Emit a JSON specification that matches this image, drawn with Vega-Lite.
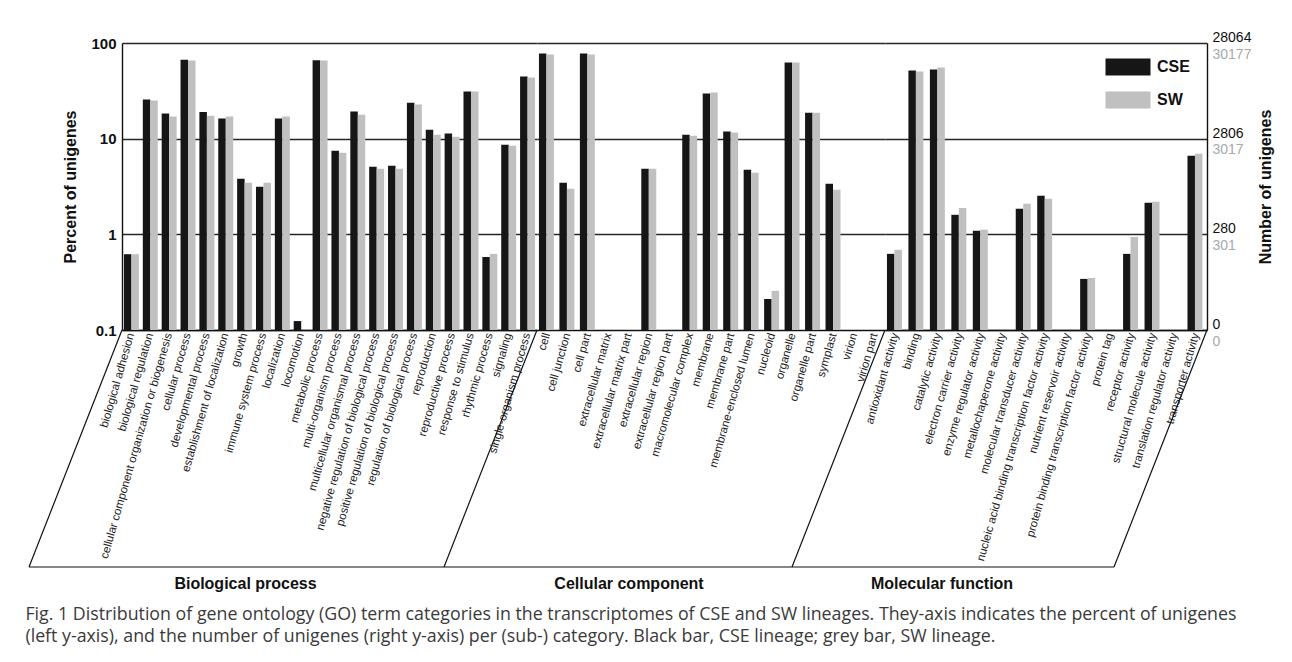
{
  "$schema": "https://vega.github.io/schema/vega-lite/v6.json",
  "background": "white",
  "padding": {"left": 25, "top": 30, "right": 18, "bottom": 6},
  "bounds": "flush",
  "spacing": 0,
  "title": {
    "text": ["Fig. 1 Distribution of gene ontology (GO) term categories in the transcriptomes of CSE and SW lineages. They-axis indicates the percent of unigenes", "(left y-axis), and the number of unigenes (right y-axis) per (sub-) category. Black bar, CSE lineage; grey bar, SW lineage."],
    "orient": "bottom", "anchor": "start", "frame": "bounds",
    "font": "Open Sans", "fontSize": 17.8, "fontWeight": "normal", "color": "#3a3a3a",
    "lineHeight": 22, "offset": 14, "dx": -3
  },
  "datasets": {
    "go": [
      {"group": "Biological process", "category": "biological adhesion", "lineage": "CSE", "percent": 0.62},
      {"group": "Biological process", "category": "biological adhesion", "lineage": "SW", "percent": 0.62},
      {"group": "Biological process", "category": "biological regulation", "lineage": "CSE", "percent": 25.6},
      {"group": "Biological process", "category": "biological regulation", "lineage": "SW", "percent": 25.0},
      {"group": "Biological process", "category": "cellular component organization or biogenesis", "lineage": "CSE", "percent": 18.3},
      {"group": "Biological process", "category": "cellular component organization or biogenesis", "lineage": "SW", "percent": 17.0},
      {"group": "Biological process", "category": "cellular process", "lineage": "CSE", "percent": 66.7},
      {"group": "Biological process", "category": "cellular process", "lineage": "SW", "percent": 65.6},
      {"group": "Biological process", "category": "developmental process", "lineage": "CSE", "percent": 19.0},
      {"group": "Biological process", "category": "developmental process", "lineage": "SW", "percent": 17.4},
      {"group": "Biological process", "category": "establishment of localization", "lineage": "CSE", "percent": 16.2},
      {"group": "Biological process", "category": "establishment of localization", "lineage": "SW", "percent": 17.0},
      {"group": "Biological process", "category": "growth", "lineage": "CSE", "percent": 3.81},
      {"group": "Biological process", "category": "growth", "lineage": "SW", "percent": 3.46},
      {"group": "Biological process", "category": "immune system process", "lineage": "CSE", "percent": 3.14},
      {"group": "Biological process", "category": "immune system process", "lineage": "SW", "percent": 3.46},
      {"group": "Biological process", "category": "localization", "lineage": "CSE", "percent": 16.2},
      {"group": "Biological process", "category": "localization", "lineage": "SW", "percent": 17.0},
      {"group": "Biological process", "category": "locomotion", "lineage": "CSE", "percent": 0.124},
      {"group": "Biological process", "category": "metabolic process", "lineage": "CSE", "percent": 66.0},
      {"group": "Biological process", "category": "metabolic process", "lineage": "SW", "percent": 65.6},
      {"group": "Biological process", "category": "multi-organism process", "lineage": "CSE", "percent": 7.48},
      {"group": "Biological process", "category": "multi-organism process", "lineage": "SW", "percent": 7.13},
      {"group": "Biological process", "category": "multicellular organismal process", "lineage": "CSE", "percent": 19.2},
      {"group": "Biological process", "category": "multicellular organismal process", "lineage": "SW", "percent": 17.8},
      {"group": "Biological process", "category": "negative regulation of biological process", "lineage": "CSE", "percent": 5.09},
      {"group": "Biological process", "category": "negative regulation of biological process", "lineage": "SW", "percent": 4.85},
      {"group": "Biological process", "category": "positive regulation of biological process", "lineage": "CSE", "percent": 5.21},
      {"group": "Biological process", "category": "positive regulation of biological process", "lineage": "SW", "percent": 4.85},
      {"group": "Biological process", "category": "regulation of biological process", "lineage": "CSE", "percent": 23.8},
      {"group": "Biological process", "category": "regulation of biological process", "lineage": "SW", "percent": 22.7},
      {"group": "Biological process", "category": "reproduction", "lineage": "CSE", "percent": 12.4},
      {"group": "Biological process", "category": "reproduction", "lineage": "SW", "percent": 11.0},
      {"group": "Biological process", "category": "reproductive process", "lineage": "CSE", "percent": 11.3},
      {"group": "Biological process", "category": "reproductive process", "lineage": "SW", "percent": 10.5},
      {"group": "Biological process", "category": "response to stimulus", "lineage": "CSE", "percent": 31.1},
      {"group": "Biological process", "category": "response to stimulus", "lineage": "SW", "percent": 31.1},
      {"group": "Biological process", "category": "rhythmic process", "lineage": "CSE", "percent": 0.58},
      {"group": "Biological process", "category": "rhythmic process", "lineage": "SW", "percent": 0.625},
      {"group": "Biological process", "category": "signaling", "lineage": "CSE", "percent": 8.65},
      {"group": "Biological process", "category": "signaling", "lineage": "SW", "percent": 8.45},
      {"group": "Biological process", "category": "single-organism process", "lineage": "CSE", "percent": 44.6},
      {"group": "Biological process", "category": "single-organism process", "lineage": "SW", "percent": 43.5},
      {"group": "Cellular component", "category": "cell", "lineage": "CSE", "percent": 77.6},
      {"group": "Cellular component", "category": "cell", "lineage": "SW", "percent": 75.8},
      {"group": "Cellular component", "category": "cell junction", "lineage": "CSE", "percent": 3.46},
      {"group": "Cellular component", "category": "cell junction", "lineage": "SW", "percent": 2.99},
      {"group": "Cellular component", "category": "cell part", "lineage": "CSE", "percent": 77.6},
      {"group": "Cellular component", "category": "cell part", "lineage": "SW", "percent": 75.8},
      {"group": "Cellular component", "category": "extracellular region", "lineage": "CSE", "percent": 4.85},
      {"group": "Cellular component", "category": "extracellular region", "lineage": "SW", "percent": 4.85},
      {"group": "Cellular component", "category": "macromolecular complex", "lineage": "CSE", "percent": 11.0},
      {"group": "Cellular component", "category": "macromolecular complex", "lineage": "SW", "percent": 10.75},
      {"group": "Cellular component", "category": "membrane", "lineage": "CSE", "percent": 29.6},
      {"group": "Cellular component", "category": "membrane", "lineage": "SW", "percent": 30.3},
      {"group": "Cellular component", "category": "membrane part", "lineage": "CSE", "percent": 11.85},
      {"group": "Cellular component", "category": "membrane part", "lineage": "SW", "percent": 11.6},
      {"group": "Cellular component", "category": "membrane-enclosed lumen", "lineage": "CSE", "percent": 4.73},
      {"group": "Cellular component", "category": "membrane-enclosed lumen", "lineage": "SW", "percent": 4.40},
      {"group": "Cellular component", "category": "nucleoid", "lineage": "CSE", "percent": 0.211},
      {"group": "Cellular component", "category": "nucleoid", "lineage": "SW", "percent": 0.256},
      {"group": "Cellular component", "category": "organelle", "lineage": "CSE", "percent": 62.5},
      {"group": "Cellular component", "category": "organelle", "lineage": "SW", "percent": 62.5},
      {"group": "Cellular component", "category": "organelle part", "lineage": "CSE", "percent": 18.7},
      {"group": "Cellular component", "category": "organelle part", "lineage": "SW", "percent": 18.7},
      {"group": "Cellular component", "category": "symplast", "lineage": "CSE", "percent": 3.38},
      {"group": "Cellular component", "category": "symplast", "lineage": "SW", "percent": 2.92},
      {"group": "Molecular function", "category": "antioxidant activity", "lineage": "CSE", "percent": 0.625},
      {"group": "Molecular function", "category": "antioxidant activity", "lineage": "SW", "percent": 0.689},
      {"group": "Molecular function", "category": "binding", "lineage": "CSE", "percent": 51.5},
      {"group": "Molecular function", "category": "binding", "lineage": "SW", "percent": 50.3},
      {"group": "Molecular function", "category": "catalytic activity", "lineage": "CSE", "percent": 52.8},
      {"group": "Molecular function", "category": "catalytic activity", "lineage": "SW", "percent": 55.4},
      {"group": "Molecular function", "category": "electron carrier activity", "lineage": "CSE", "percent": 1.60},
      {"group": "Molecular function", "category": "electron carrier activity", "lineage": "SW", "percent": 1.89},
      {"group": "Molecular function", "category": "enzyme regulator activity", "lineage": "CSE", "percent": 1.09},
      {"group": "Molecular function", "category": "enzyme regulator activity", "lineage": "SW", "percent": 1.12},
      {"group": "Molecular function", "category": "molecular transducer activity", "lineage": "CSE", "percent": 1.85},
      {"group": "Molecular function", "category": "molecular transducer activity", "lineage": "SW", "percent": 2.09},
      {"group": "Molecular function", "category": "nucleic acid binding transcription factor activity", "lineage": "CSE", "percent": 2.53},
      {"group": "Molecular function", "category": "nucleic acid binding transcription factor activity", "lineage": "SW", "percent": 2.35},
      {"group": "Molecular function", "category": "protein binding transcription factor activity", "lineage": "CSE", "percent": 0.342},
      {"group": "Molecular function", "category": "protein binding transcription factor activity", "lineage": "SW", "percent": 0.35},
      {"group": "Molecular function", "category": "receptor activity", "lineage": "CSE", "percent": 0.625},
      {"group": "Molecular function", "category": "receptor activity", "lineage": "SW", "percent": 0.94},
      {"group": "Molecular function", "category": "structural molecule activity", "lineage": "CSE", "percent": 2.14},
      {"group": "Molecular function", "category": "structural molecule activity", "lineage": "SW", "percent": 2.19},
      {"group": "Molecular function", "category": "transporter activity", "lineage": "CSE", "percent": 6.64},
      {"group": "Molecular function", "category": "transporter activity", "lineage": "SW", "percent": 6.96}
    ]
  },
  "hconcat": [
    {
      "width": 415, "height": 287,
      "title": {"text": "Biological process", "orient": "bottom", "anchor": "middle", "dx": -84, "offset": 8},
      "layer": [
        {
          "data": {"name": "go"},
          "transform": [{"filter": "datum.group == 'Biological process'"}],
          "mark": {"type": "bar"},
          "encoding": {
            "x": {"field": "category", "type": "nominal", "title": null,
              "scale": {"domain": ["biological adhesion", "biological regulation", "cellular component organization or biogenesis", "cellular process", "developmental process", "establishment of localization", "growth", "immune system process", "localization", "locomotion", "metabolic process", "multi-organism process", "multicellular organismal process", "negative regulation of biological process", "positive regulation of biological process", "regulation of biological process", "reproduction", "reproductive process", "response to stimulus", "rhythmic process", "signaling", "single-organism process"], "paddingInner": 0, "paddingOuter": 0}},
            "xOffset": {"field": "lineage", "type": "nominal", "scale": {"domain": ["CSE", "SW"], "paddingOuter": 0.26, "paddingInner": 0}},
            "y": {"field": "percent", "type": "quantitative", "stack": null,
              "scale": {"type": "log", "domain": [0.1, 100], "nice": false},
              "axis": {"values": [0.1, 1, 10, 100], "labelExpr": "datum.value < 0.5 ? '0.1' : format(datum.value, 'd')",
                "labelFontSize": 15, "labelFontWeight": "bold", "labelColor": "#111", "labelPadding": 6,
                "domain": true, "grid": true, "title": "Percent of unigenes", "titleFontSize": 16, "titleFontWeight": "bold",
                "titleColor": "#111", "titlePadding": 12, "labelFlush": false, "labelOverlap": false}},
            "color": {"field": "lineage", "type": "nominal",
              "scale": {"domain": ["CSE", "SW"], "range": ["#161616", "#c0c0c0"]},
              "legend": {"orient": "none", "legendX": 997, "legendY": 15, "title": null, "padding": 0,
                "symbolType": "M-2.5,-0.95H2.5V0.95H-2.5Z", "symbolSize": 324, "symbolStrokeWidth": 0, "symbolOpacity": 1,
                "labelFontSize": 16, "labelFontWeight": "bold", "labelColor": "#111", "labelOffset": 20, "rowPadding": 15}}
          }
        },
        {
          "data": {"values": [{}]},
          "mark": {"type": "rule", "x2Offset": -93, "y2Offset": 237, "color": "#111", "strokeWidth": 1.2},
          "encoding": {
            "x": {"datum": "biological adhesion", "type": "nominal", "bandPosition": 0},
            "x2": {"datum": "biological adhesion", "bandPosition": 0},
            "y": {"datum": 0.1, "type": "quantitative"},
            "y2": {"datum": 0.1}
          }
        },
        {
          "data": {"values": [{}]},
          "mark": {"type": "rule", "xOffset": -93, "x2Offset": -93, "yOffset": 237, "color": "#111", "strokeWidth": 1.2},
          "encoding": {
            "x": {"datum": "biological adhesion", "type": "nominal", "bandPosition": 0},
            "x2": {"datum": "single-organism process", "bandPosition": 1},
            "y": {"datum": 0.1, "type": "quantitative"}
          }
        }
      ]
    },
    {
      "width": 348, "height": 287,
      "title": {"text": "Cellular component", "orient": "bottom", "anchor": "middle", "dx": -82, "offset": 8},
      "layer": [
        {
          "data": {"name": "go"},
          "transform": [{"filter": "datum.group == 'Cellular component'"}],
          "mark": {"type": "bar"},
          "encoding": {
            "x": {"field": "category", "type": "nominal", "title": null,
              "scale": {"domain": ["cell", "cell junction", "cell part", "extracellular matrix", "extracellular matrix part", "extracellular region", "extracellular region part", "macromolecular complex", "membrane", "membrane part", "membrane-enclosed lumen", "nucleoid", "organelle", "organelle part", "symplast", "virion", "virion part"], "paddingInner": 0, "paddingOuter": 0}},
            "xOffset": {"field": "lineage", "type": "nominal", "scale": {"domain": ["CSE", "SW"], "paddingOuter": 0.36, "paddingInner": 0}},
            "y": {"field": "percent", "type": "quantitative", "stack": null,
              "scale": {"type": "log", "domain": [0.1, 100], "nice": false},
              "axis": {"values": [1, 10, 100], "labels": false, "domain": false, "grid": true, "title": null}},
            "color": {"field": "lineage", "type": "nominal",
              "scale": {"domain": ["CSE", "SW"], "range": ["#161616", "#c0c0c0"]}}
          }
        },
        {
          "data": {"values": [{}]},
          "mark": {"type": "rule", "x2Offset": -93, "y2Offset": 237, "color": "#111", "strokeWidth": 1.2},
          "encoding": {
            "x": {"datum": "cell", "type": "nominal", "bandPosition": 0},
            "x2": {"datum": "cell", "bandPosition": 0},
            "y": {"datum": 0.1, "type": "quantitative"},
            "y2": {"datum": 0.1}
          }
        },
        {
          "data": {"values": [{}]},
          "mark": {"type": "rule", "xOffset": -93, "x2Offset": -93, "yOffset": 237, "color": "#111", "strokeWidth": 1.2},
          "encoding": {
            "x": {"datum": "cell", "type": "nominal", "bandPosition": 0},
            "x2": {"datum": "virion part", "bandPosition": 1},
            "y": {"datum": 0.1, "type": "quantitative"}
          }
        }
      ]
    },
    {
      "width": 322, "height": 287,
      "title": {"text": "Molecular function", "orient": "bottom", "anchor": "middle", "dx": -104, "offset": 8},
      "resolve": {"axis": {"y": "independent"}},
      "layer": [
        {
          "data": {"name": "go"},
          "transform": [{"filter": "datum.group == 'Molecular function'"}],
          "mark": {"type": "bar"},
          "encoding": {
            "x": {"field": "category", "type": "nominal", "title": null,
              "scale": {"domain": ["antioxidant activity", "binding", "catalytic activity", "electron carrier activity", "enzyme regulator activity", "metallochaperone activity", "molecular transducer activity", "nucleic acid binding transcription factor activity", "nutrient reservoir activity", "protein binding transcription factor activity", "protein tag", "receptor activity", "structural molecule activity", "translation regulator activity", "transporter activity"], "paddingInner": 0, "paddingOuter": 0}},
            "xOffset": {"field": "lineage", "type": "nominal", "scale": {"domain": ["CSE", "SW"], "paddingOuter": 0.5, "paddingInner": 0}},
            "y": {"field": "percent", "type": "quantitative", "stack": null,
              "scale": {"type": "log", "domain": [0.1, 100], "nice": false},
              "axis": {"orient": "right", "values": [0.1, 1, 10, 100],
                "labelExpr": "datum.value >= 50 ? '28064' : datum.value >= 5 ? '2806' : datum.value >= 0.5 ? '280' : '0'",
                "labelColor": "#111", "labelFontSize": 14, "labelBaseline": "alphabetic", "labelOffset": -1.5, "labelPadding": 5,
                "domain": true, "grid": true, "labelFlush": false, "labelOverlap": false,
                "title": "Number of unigenes", "titleAngle": 270, "titleBaseline": "top", "titlePadding": 7,
                "titleFontSize": 16, "titleFontWeight": "bold", "titleColor": "#111"}},
            "color": {"field": "lineage", "type": "nominal",
              "scale": {"domain": ["CSE", "SW"], "range": ["#161616", "#c0c0c0"]}}
          }
        },
        {
          "data": {"values": [{}]},
          "mark": {"type": "rule", "x2Offset": -93, "y2Offset": 237, "color": "#111", "strokeWidth": 1.2},
          "encoding": {
            "x": {"datum": "antioxidant activity", "type": "nominal", "bandPosition": 0},
            "x2": {"datum": "antioxidant activity", "bandPosition": 0},
            "y": {"datum": 0.1, "type": "quantitative",
              "axis": {"orient": "right", "values": [0.1, 1, 10, 100],
                "labelExpr": "datum.value >= 50 ? '30177' : datum.value >= 5 ? '3017' : datum.value >= 0.5 ? '301' : '0'",
                "labelColor": "#a8a8a8", "labelFontSize": 14, "labelBaseline": "alphabetic", "labelOffset": 15, "labelPadding": 5,
                "domain": false, "grid": false, "labelFlush": false, "labelOverlap": false, "title": null}},
            "y2": {"datum": 0.1}
          }
        },
        {
          "data": {"values": [{}]},
          "mark": {"type": "rule", "x2Offset": -93, "y2Offset": 237, "color": "#111", "strokeWidth": 1.2},
          "encoding": {
            "x": {"datum": "transporter activity", "type": "nominal", "bandPosition": 1},
            "x2": {"datum": "transporter activity", "bandPosition": 1},
            "y": {"datum": 0.1, "type": "quantitative", "axis": null},
            "y2": {"datum": 0.1}
          }
        },
        {
          "data": {"values": [{}]},
          "mark": {"type": "rule", "xOffset": -93, "x2Offset": -93, "yOffset": 237, "color": "#111", "strokeWidth": 1.2},
          "encoding": {
            "x": {"datum": "antioxidant activity", "type": "nominal", "bandPosition": 0},
            "x2": {"datum": "transporter activity", "bandPosition": 1},
            "y": {"datum": 0.1, "type": "quantitative", "axis": null}
          }
        }
      ]
    }
  ],
  "config": {
    "view": {"stroke": null},
    "font": "Liberation Sans",
    "axis": {"labelFont": "Liberation Sans", "titleFont": "Liberation Sans", "ticks": false,
      "gridColor": "#262626", "gridWidth": 1.6, "gridOpacity": 1, "domainColor": "#111", "domainWidth": 1.4},
    "axisX": {"labelAngle": -74, "labelFontSize": 11.5, "labelColor": "#222", "labelPadding": 3, "labelLimit": 400,
      "labelOverlap": false, "labelBound": false, "domain": true, "grid": false},
    "title": {"font": "Liberation Sans", "fontSize": 16, "fontWeight": "bold", "color": "#111"}
  }
}
